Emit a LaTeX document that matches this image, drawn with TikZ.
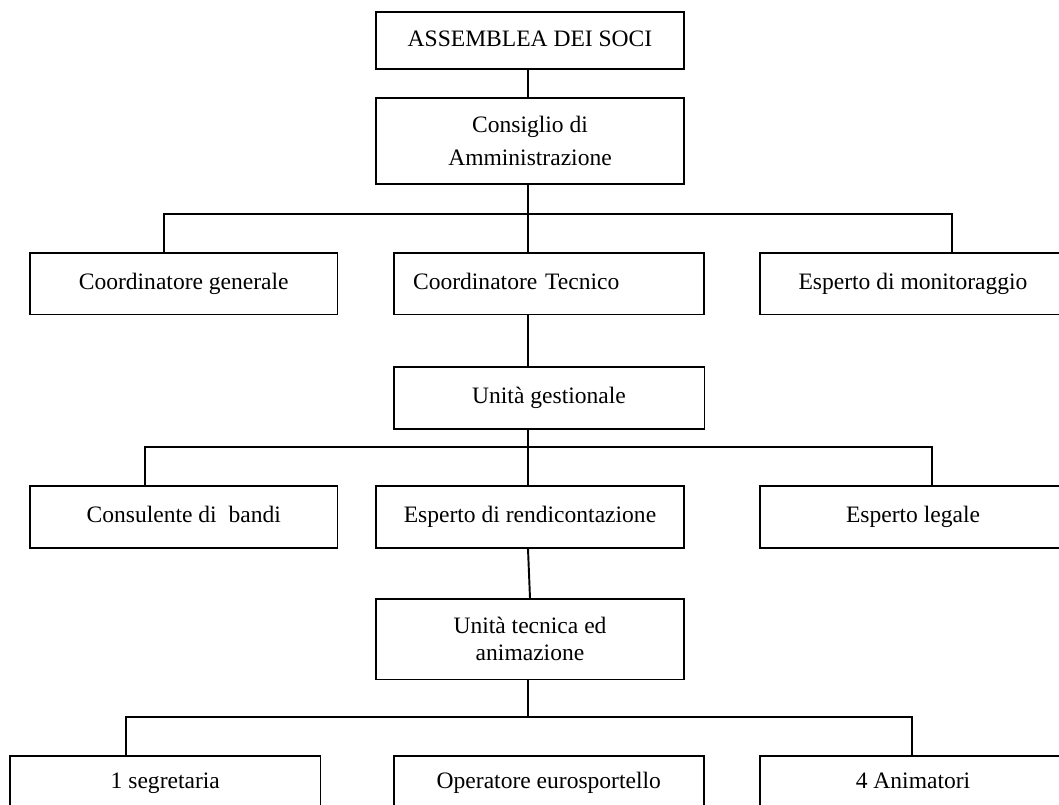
\documentclass[tikz,border=0pt]{standalone}
\usepackage{fontspec}
\setmainfont{Liberation Serif}

\begin{document}
\begin{tikzpicture}[x=0.02cm, y=-0.02cm, line width=1.1pt,
	box/.style={draw, minimum height=1.23cm, inner sep=0pt, font=\fontsize{13.4}{17}\selectfont, text height=0.85em, text depth=0.2em},
	duerighe/.style={draw, inner sep=0pt, align=center},
	]
	\useasboundingbox (0, 0) rectangle (1059, 805);
	\clip (0, 0) rectangle (1059, 805);

	% Vertice
	\node[box, minimum width=6.16cm, minimum height=1.14cm] (assemblea) at (530, 40.5) {ASSEMBLEA DEI SOCI};
	\node[duerighe, minimum width=6.16cm, minimum height=1.72cm, font=\fontsize{13.4}{18.8}\selectfont] (consiglio) at (530, 141) {Consiglio di\\Amministrazione};

	% Primo livello
	\node[box, minimum width=6.15cm] (cgen) at (183.75, 283.75) {Coordinatore generale};
	\node[box, minimum width=6.21cm, text width=5.43cm, inner xsep=0.39cm, align=left] (ctec) at (548.8, 283.75) {Coordinatore Tecnico};
	\node[box, minimum width=6.12cm] (espmon) at (913, 283.75) {Esperto di monitoraggio};

	% Unità gestionale
	\node[box, minimum width=6.22cm, minimum height=1.24cm] (ugest) at (549, 398) {Unità gestionale};
	\node[box, minimum width=6.15cm, minimum height=1.24cm] (consulente) at (183.75, 517) {Consulente di\ \ bandi};
	\node[box, minimum width=6.16cm, minimum height=1.24cm] (erend) at (530, 517) {Esperto di rendicontazione};
	\node[box, minimum width=6.12cm, minimum height=1.24cm] (elegale) at (913, 517) {Esperto legale};

	% Unità tecnica
	\node[duerighe, minimum width=6.16cm, minimum height=1.61cm, font=\fontsize{13.4}{15.2}\selectfont] (utec) at (530, 639.25) {Unità tecnica ed\\animazione};
	\node[box, minimum width=6.21cm, minimum height=1.08cm] (segr) at (165.3, 783) {1 segretaria};
	\node[box, minimum width=6.21cm, minimum height=1.08cm] (oper) at (548.8, 783) {Operatore eurosportello};
	\node[box, minimum width=6.12cm, minimum height=1.08cm] (anim) at (913, 783) {4 Animatori};

	% Tronco e sbarre orizzontali
	\coordinate (t) at (528, 0);
	\coordinate (t2) at (530, 0);
	\coordinate (bus1) at (164, 214);
	\coordinate (bus1r) at (952, 214);
	\coordinate (bus2) at (145, 447);
	\coordinate (bus2r) at (932, 447);
	\coordinate (bus3) at (126, 717);
	\coordinate (bus3r) at (912, 717);

	\draw (assemblea.south -| t) -- (consiglio.north -| t);
	\draw (consiglio.south -| t) -- (ctec.north -| t);
	\draw (cgen.north -| bus1) |- (bus1r) -- (espmon.north -| bus1r); % primo ramo

	\draw (ctec.south -| t) -- (ugest.north -| t);
	\draw (ugest.south -| t) -- (erend.north -| t);
	\draw (consulente.north -| bus2) -- (bus2) -- (bus2r) -- (elegale.north -| bus2r); % secondo ramo

	\draw (erend.south -| t) -- (utec.north -| t2);
	\draw (utec.south -| t) -- (bus3 -| t);
	\draw (segr.north -| bus3) |- (bus3r) -- (anim.north -| bus3r); % terzo ramo
\end{tikzpicture}
\end{document}
